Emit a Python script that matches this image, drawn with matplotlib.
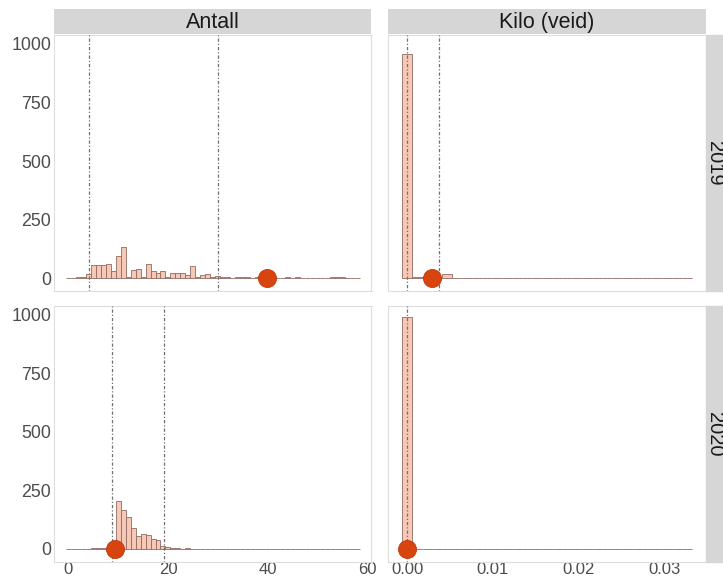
import matplotlib
matplotlib.use("Agg")
import matplotlib.pyplot as plt
from matplotlib.patches import Rectangle
import numpy as np

plt.rcParams['font.family'] = ['Liberation Sans', 'DejaVu Sans']

# ---- data ------------------------------------------------------------
antall_bins = list(range(0, 59))          # bin centres, width 1
antall_2019 = [2, 2, 3, 6, 18, 56, 57, 58, 61, 30,
               93, 131, 3, 35, 40, 3, 60, 30, 21, 31,
               4, 23, 23, 22, 12, 51, 3, 13, 16, 5,
               8, 3, 6, 2, 3, 3, 6, 2, 3, 2,
               1, 1, 2, 1, 4, 1, 3, 1, 1, 1,
               1, 1, 1, 3, 3, 3, 1, 1, 1]
antall_2020 = [0, 0, 0, 0, 0, 1, 1, 2, 4, 10,
               204, 165, 137, 90, 54, 64, 60, 43, 36, 12,
               5, 3, 1, 0, 1, 0, 0, 0, 0, 0,
               0, 0, 0, 0, 0, 0, 0, 0, 0, 0,
               0, 0, 0, 0, 0, 0, 0, 0, 0, 0,
               0, 0, 0, 0, 0, 0, 0, 0, 0]

kilo_width = 0.035 / 30
kilo_bins = [k * kilo_width for k in range(29)]
kilo_2019 = [956, 4, 3, 1, 16, 0, 0, 1, 2, 0,
             0, 0, 0, 0, 0, 0, 0, 0, 0, 0,
             0, 0, 0, 0, 0, 0, 0, 0, 1]
kilo_2020 = [991] + [0] * 28

years = ["2019", "2020"]
antall_lines = {"2019": [4.2, 30.0], "2020": [8.8, 19.2]}
antall_point = {"2019": 40.0, "2020": 9.3}
kilo_lines = {"2019": [0.0, 0.00375], "2020": [0.0]}
kilo_point = {"2019": 0.00288, "2020": 0.0}

# ---- style -----------------------------------------------------------
W, H = 723, 581
fill_col = '#F8C8B6'
edge_col = '#8F6A62'
point_col = '#D8440F'
line_col = '#707070'
line_style = (0, (1, 1.6, 2.6, 1.6))
strip_col = '#D6D6D6'
tick_col = '#4D4D4D'

fig = plt.figure(figsize=(W / 100, H / 100), dpi=100)


def px_axes(x0, y0, x1, y1):
    # pixel box (top-left origin) -> figure axes
    return fig.add_axes([x0 / W, 1 - y1 / H, (x1 - x0) / W, (y1 - y0) / H])


cols = [(54, 371.5), (388, 706)]
rows = [(35, 291), (306, 561.5)]

for r, year in enumerate(years):
    for c in range(2):
        ax = px_axes(cols[c][0], rows[r][0], cols[c][1], rows[r][1])
        if c == 0:
            ax.bar(antall_bins, antall_2019 if year == "2019" else antall_2020,
                   width=1.0, color=fill_col, edgecolor=edge_col, linewidth=0.6, zorder=2)
            for v in antall_lines[year]:
                ax.axvline(v, color=line_col, lw=0.9, ls=line_style, zorder=3)
            ax.plot([antall_point[year]], [0], 'o', ms=13, color=point_col,
                    mec='#C23A0A', mew=0.6, zorder=4)
            ax.set_xlim(-2.9, 60.9)
            ax.set_xticks([0, 20, 40, 60])
            ax.set_xticklabels(["0", "20", "40", "60"])
        else:
            ax.bar(kilo_bins, kilo_2019 if year == "2019" else kilo_2020,
                   width=kilo_width, color=fill_col, edgecolor=edge_col, linewidth=0.6, zorder=2)
            for v in kilo_lines[year]:
                ax.axvline(v, color=line_col, lw=0.9, ls=line_style, zorder=3)
            ax.plot([kilo_point[year]], [0], 'o', ms=13, color=point_col,
                    mec='#C23A0A', mew=0.6, zorder=4)
            ax.set_xlim(-0.00222, 0.0349)
            ax.set_xticks([0.0, 0.01, 0.02, 0.03])
            ax.set_xticklabels(["0.00", "0.01", "0.02", "0.03"])
        ax.set_ylim(-55, 1038)
        ax.set_yticks([0, 250, 500, 750, 1000])
        ax.tick_params(axis='y', length=0, labelsize=12.8, labelcolor=tick_col, pad=2)
        ax.tick_params(axis='x', length=0, labelsize=12, labelcolor=tick_col, pad=0)
        if c == 1:
            ax.set_yticklabels([])
        if r == 0:
            ax.set_xticklabels([])
        for s in ax.spines.values():
            s.set_color('#DEDEDE')
            s.set_linewidth(0.8)

# strips on top
for c, label in enumerate(["Antall", "Kilo (veid)"]):
    sx = px_axes(cols[c][0], 9, cols[c][1], 34)
    sx.set_axis_off()
    sx.add_patch(Rectangle((0, 0), 1, 1, transform=sx.transAxes, color=strip_col))
    sx.text(0.5, 0.45, label, ha='center', va='center', fontsize=15.5, color='#1A1A1A')

# strips on the right (cut by the figure edge, as in the original)
for r, year in enumerate(years):
    sx = px_axes(706, rows[r][0], 735, rows[r][1])
    sx.set_axis_off()
    sx.add_patch(Rectangle((0, 0), 1, 1, transform=sx.transAxes, color=strip_col,
                           clip_on=False))
    sx.text(8.5 / 29, 0.5, year, ha='center', va='center', rotation=270,
            fontsize=14.5, color='#1A1A1A')

fig.savefig("out.png", dpi=100)
